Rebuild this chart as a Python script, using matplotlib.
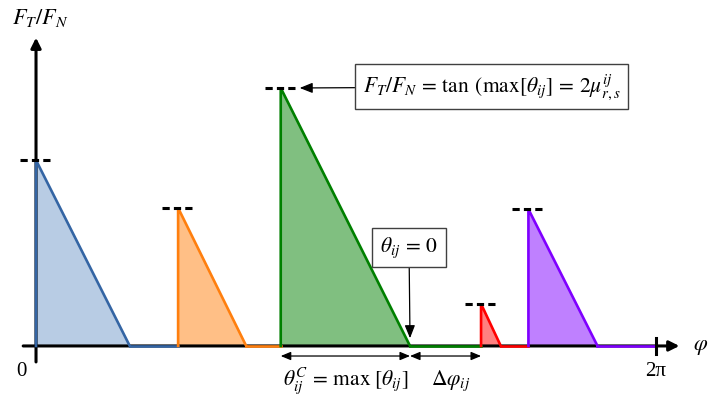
import numpy as np
import matplotlib
matplotlib.use("Agg")
import matplotlib.pyplot as plt

plt.rcParams["font.family"] = ["Liberation Serif", "DejaVu Serif"]
plt.rcParams["mathtext.fontset"] = "stix"
plt.rcParams["lines.scale_dashes"] = False

# contact windows: start / end angle of each ramp and its peak ratio
starts = [0.0, 1.44, 2.48, 4.51, 4.99]
ends = [0.95, 2.13, 3.79, 4.71, 5.69]
peaks = [0.72, 0.535, 1.0, 0.163, 0.53]
colors = ["#3465a4", "#ff7f0e", "#008000", "#ff0000", "#7f00ff"]
fills = ["#b8cce4", "#ffbf86", "#80bf80", "#ff8080", "#bf80ff"]
two_pi = 2 * np.pi

fig = plt.figure(figsize=(7.09, 3.96), dpi=100)
ax = fig.add_axes([0, 0, 1, 1])
ax.set_xlim(-0.365, 6.82)
ax.set_ylim(-0.194, 1.341)
ax.axis("off")

# axes drawn by hand
ax.annotate("", xy=(6.52, 0), xytext=(-0.13, 0), zorder=2.5,
            arrowprops=dict(arrowstyle="-|>,head_length=0.6,head_width=0.3",
                            color="black", lw=2.2, shrinkA=0, shrinkB=0))
ax.annotate("", xy=(0, 1.195), xytext=(0, -0.062), zorder=2.5,
            arrowprops=dict(arrowstyle="-|>,head_length=0.6,head_width=0.3",
                            color="black", lw=2.2, shrinkA=0, shrinkB=0))
ax.plot([two_pi, two_pi], [-0.031, 0.031], color="black", lw=2.2, zorder=4)

dash_hw = 0.162
for i, (s, e, p, c, f) in enumerate(zip(starts, ends, peaks, colors, fills)):
    nxt = starts[i + 1] if i + 1 < len(starts) else two_pi
    ax.fill([s, s, e], [0, p, 0], color=f, lw=0, zorder=2)
    ax.plot([s, s, e], [0, p, 0], color=c, lw=1.9,
            solid_joinstyle="miter", zorder=3)
    ax.plot([e, nxt], [0, 0], color=c, lw=1.9, zorder=3)
    ln, = ax.plot([s - dash_hw, s + dash_hw], [p, p], color="black", lw=2.2,
                  zorder=4, solid_capstyle="butt", dash_capstyle="butt")
    ln.set_dashes([5.2, 3])

# labels
ax.text(0.04, 1.27, r"$F_T/F_N$", fontsize=16, ha="center", va="center")
ax.text(-0.15, -0.10, "0", fontsize=15, ha="center", va="center")
ax.text(two_pi, -0.10, "2π", fontsize=15, ha="center", va="center")
ax.text(6.73, -0.005, r"$\varphi$", fontsize=16, ha="center", va="center")

box = dict(boxstyle="square,pad=0.35", fc="white", ec="#404040", lw=1)
ax.annotate(r"$F_T/F_N\,=\,\tan\;(\max[\theta_{ij}]\,=\,2\mu^{ij}_{r,s}$",
            xy=(starts[2] + dash_hw + 0.03, peaks[2]), xytext=(4.616, 1.004),
            fontsize=15.5, ha="center", va="center", bbox=box,
            arrowprops=dict(arrowstyle="-|>,head_length=0.5,head_width=0.2",
                            color="black", lw=0.9, shrinkA=0, shrinkB=0))
ax.annotate(r"$\theta_{ij}\,=\,0$", xy=(ends[2], 0.03), xytext=(ends[2] - 0.01, 0.382),
            fontsize=15.5, ha="center", va="center", bbox=box,
            arrowprops=dict(arrowstyle="-|>,head_length=0.5,head_width=0.2",
                            color="black", lw=0.9, shrinkA=0, shrinkB=0))

# spans under the axis
for a, b in [(starts[2], ends[2]), (ends[2], starts[3])]:
    ax.annotate("", xy=(a, -0.039), xytext=(b, -0.039),
                arrowprops=dict(arrowstyle="<|-|>,head_length=0.6,head_width=0.25",
                                color="black", lw=0.9, shrinkA=0, shrinkB=0))
ax.text((starts[2] + ends[2]) / 2, -0.135,
        r"$\theta^C_{ij}\,=\,\max\;[\theta_{ij}]$", fontsize=15.5,
        ha="center", va="center")
ax.text((ends[2] + starts[3]) / 2 + 0.05, -0.135, r"$\Delta\varphi_{ij}$",
        fontsize=15.5, ha="center", va="center")

fig.savefig("out.png", dpi=100)
